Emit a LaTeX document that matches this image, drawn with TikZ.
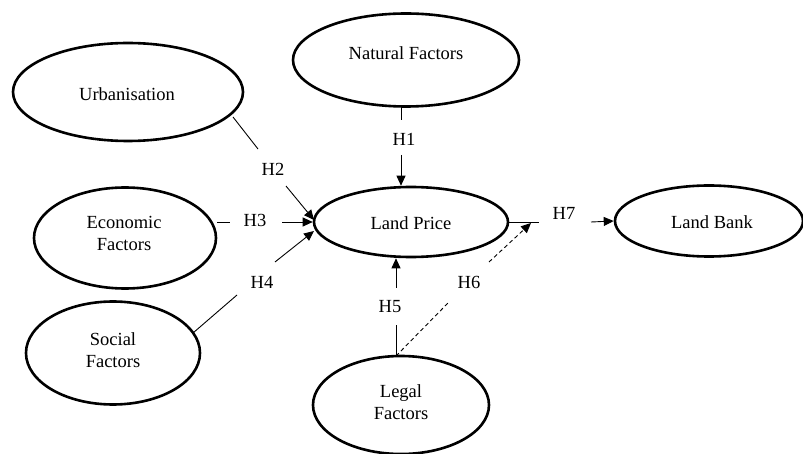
\documentclass[tikz,border=0pt]{standalone}
\usepackage{fontspec}
\setmainfont{Liberation Serif}
\usetikzlibrary{shapes.geometric,arrows.meta}
\begin{document}
\begin{tikzpicture}[x=1pt,y=-1pt,
  every node/.style={font=\fontsize{18.5}{22}\selectfont},
  construct/.style={draw,ellipse,line width=2.6pt,inner sep=0pt},
  txt/.style={inner sep=0pt,align=center},
  hlab/.style={inner sep=0pt},
  link/.style={line width=0.9pt},
  arrowlink/.style={line width=0.9pt,-{Triangle[length=10pt,width=9pt]}},
  dashlink/.style={line width=0.9pt,dashed,dash pattern=on 4pt off 3pt}]
\useasboundingbox (0,0) rectangle (803,454);
% constructs
\node[construct,minimum width=230pt,minimum height=98pt] (urb) at (128,92) {};
\node[construct,minimum width=226pt,minimum height=93pt] (nat) at (406,60) {};
\node[construct,minimum width=182pt,minimum height=101pt] (eco) at (125,238) {};
\node[construct,minimum width=174pt,minimum height=103pt] (soc) at (113,353) {};
\node[construct,minimum width=194pt,minimum height=70pt] (lp) at (411,222) {};
\node[construct,minimum width=188pt,minimum height=71pt] (lb) at (709,221) {};
\node[construct,minimum width=176pt,minimum height=98pt] (leg) at (401,405) {};
% texts
\node[txt] (turb) at (127,94) {Urbanisation};
\node[txt] (tnat) at (406,53) {Natural Factors};
\node[txt] (teco) at (124,233) {Economic\\Factors};
\node[txt] (tsoc) at (113,350) {Social\\Factors};
\node[txt] (tlp) at (411,223) {Land Price};
\node[txt] (tlb) at (712,222) {Land Bank};
\node[txt] (tleg) at (401,402) {Legal\\Factors};
% H1
\coordinate (h1a) at (401,120);
\coordinate (h1b) at (401,155);
\node[hlab] (H1) at (404,139) {H1};
\draw[link] (401,107) -- (h1a);
\draw[arrowlink] (h1b) -- (lp.north -| h1b);
% H2
\coordinate (u2) at (233,117);
\coordinate (h2a) at (258,149);
\coordinate (h2b) at (286,186);
\coordinate (t2) at (314,220);
\node[hlab] (H2) at (273,169) {H2};
\draw[link] (u2) -- (h2a);
\draw[arrowlink] (h2b) -- (t2);
% H3
\coordinate (h3a) at (230,222);
\coordinate (h3b) at (282,222);
\node[hlab] (H3) at (255,220) {H3};
\draw[link] (eco.east |- h3a) -- (h3a);
\draw[arrowlink] (h3b) -- (lp.west);
% H4
\coordinate (s4) at (193,333);
\coordinate (h4a) at (237,295);
\coordinate (h4b) at (275,262);
\coordinate (t4) at (314,231);
\node[hlab] (H4) at (262,282) {H4};
\draw[link] (s4) -- (h4a);
\draw[arrowlink] (h4b) -- (t4);
% H5
\coordinate (l5) at (396,356);
\coordinate (h5a) at (396,325);
\coordinate (h5b) at (396,288);
\node[hlab] (H5) at (390,307) {H5};
\draw[link] (l5) -- (h5a);
\draw[arrowlink] (h5b) -- (lp.south -| h5b);
% H6
\coordinate (h6a) at (448,303);
\coordinate (h6b) at (489,262);
\coordinate (t6) at (531,223);
\node[hlab] (H6) at (469,282) {H6};
\draw[dashlink] (l5) -- (h6a);
\draw[dashlink,-{Triangle[length=10pt,width=9pt]}] (h6b) -- (t6);
% H7
\coordinate (h7a) at (539,222);
\coordinate (h7b) at (591,222);
\node[hlab] (H7) at (564,213) {H7};
\draw[link] (lp.east) -- (h7a);
\draw[arrowlink] (h7b) -- (lb.west);
\end{tikzpicture}
\end{document}
